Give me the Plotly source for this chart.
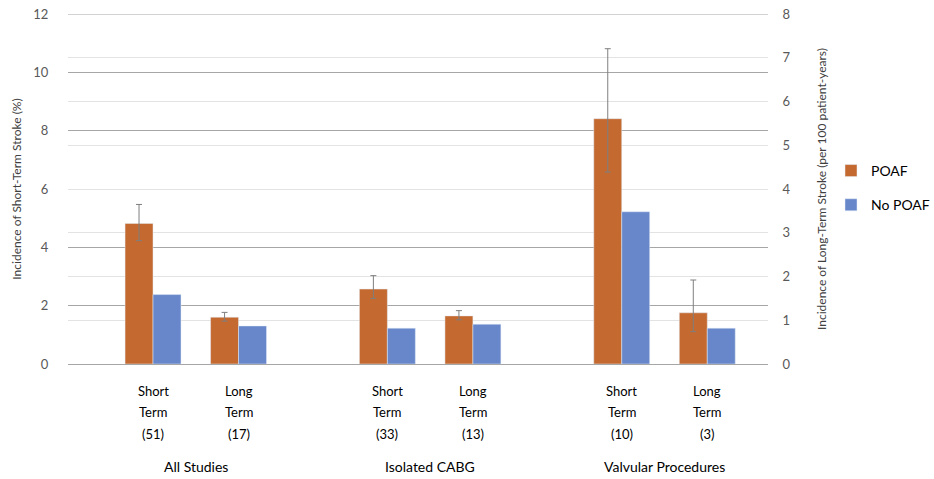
import plotly.graph_objects as go

# ---- data ----
groups = ["All Studies", "Isolated CABG", "Valvular Procedures"]
n_short = [51, 33, 10]
n_long = [17, 13, 3]

short_poaf = [4.82, 2.57, 8.41]
short_poaf_hi = [5.47, 3.03, 10.81]
short_poaf_lo = [4.23, 2.25, 6.58]
short_nopoaf = [2.38, 1.23, 5.22]

long_poaf = [1.07, 1.10, 1.17]
long_poaf_hi = [1.18, 1.22, 1.92]
long_poaf_lo = [0.98, 1.01, 0.74]
long_nopoaf = [0.87, 0.91, 0.82]

series_names = ["POAF", "No POAF"]
colors = ["#C4692F", "#6787CA"]

# ---- layout helpers ----
FONT = "Lato, 'Open Sans', sans-serif"
TXT = "#404040"
GROUP_STEP = 2.74
x_short = [g * GROUP_STEP for g in range(len(groups))]
x_long = [g * GROUP_STEP + 1 for g in range(len(groups))]
BW = 0.327
Y_MAX, Y2_MAX = 12, 8

fig = go.Figure()

def err(vals, hi, lo):
    return dict(type="data", symmetric=False,
                array=[h - v for h, v in zip(hi, vals)],
                arrayminus=[v - l for l, v in zip(lo, vals)],
                color="#7F7F7F", thickness=1, width=3)

fig.add_trace(go.Bar(x=x_short, y=short_poaf, name=series_names[0], marker_color=colors[0],
                     width=BW, offset=-BW, legendgroup="a",
                     error_y=err(short_poaf, short_poaf_hi, short_poaf_lo)))
fig.add_trace(go.Bar(x=x_short, y=short_nopoaf, name=series_names[1], marker_color=colors[1],
                     width=BW, offset=0, legendgroup="b"))
fig.add_trace(go.Bar(x=x_long, y=long_poaf, name=series_names[0], marker_color=colors[0],
                     width=BW, offset=-BW, legendgroup="a", showlegend=False, yaxis="y2",
                     error_y=err(long_poaf, long_poaf_hi, long_poaf_lo)))
fig.add_trace(go.Bar(x=x_long, y=long_nopoaf, name=series_names[1], marker_color=colors[1],
                     width=BW, offset=0, legendgroup="b", showlegend=False, yaxis="y2"))

annotations = []
for g in range(len(groups)):
    for xpos, kind, n in ((x_short[g], "Short", n_short[g]), (x_long[g], "Long", n_long[g])):
        for line, shift in zip([kind, "Term", f"({n})"], [-27, -48, -70]):
            annotations.append(dict(x=xpos, y=0, xref="x", yref="paper", text=line,
                                    showarrow=False, yanchor="middle", yshift=shift,
                                    font=dict(size=13, color="#000000", family=FONT)))
    annotations.append(dict(x=(x_short[g] + x_long[g]) / 2, y=0, xref="x", yref="paper",
                            text=groups[g], showarrow=False, yanchor="middle", yshift=-102,
                            font=dict(size=14, color="#000000", family=FONT)))

fig.update_layout(
    width=934, height=479,
    margin=dict(l=68, r=166, t=14, b=115, autoexpand=False),
    paper_bgcolor="white", plot_bgcolor="white",
    font=dict(family=FONT, color=TXT),
    barmode="overlay",
    showlegend=True,
    legend=dict(x=1.09, y=0.503, xanchor="left", yanchor="middle",
                font=dict(size=14, color="#000000", family=FONT),
                tracegroupgap=13, itemwidth=30, bgcolor="rgba(0,0,0,0)"),
    xaxis=dict(range=[-0.994, 7.19], showticklabels=False, showgrid=False,
               zeroline=False, showline=False, ticks=""),
    yaxis=dict(range=[0, Y_MAX], dtick=2, showgrid=True,
               gridcolor="#A6A6A6", gridwidth=1,
               zeroline=True, zerolinecolor="#A6A6A6", zerolinewidth=1, showline=False,
               ticks="outside", ticklen=16, tickcolor="rgba(0,0,0,0)",
               ticklabeloverflow="allow",
               tickfont=dict(size=13, color="#595959"),
               title=dict(text="Incidence of Short-Term Stroke (%)", standoff=9,
                          font=dict(size=12, color="#404040"))),
    yaxis2=dict(range=[0, Y2_MAX], dtick=1, overlaying="y",
                side="right", showgrid=True,
                gridcolor="#E3E3E3", gridwidth=1, zeroline=False, showline=False,
                ticks="outside", ticklen=11, tickcolor="rgba(0,0,0,0)",
                ticklabeloverflow="allow",
                tickfont=dict(size=13, color="#595959"),
                title=dict(text="Incidence of Long-Term Stroke (per 100 patient-years)", standoff=28,
                           font=dict(size=12, color="#404040"))),
    annotations=annotations,
    shapes=[dict(type="line", xref="paper", yref="y", x0=0, x1=1, y0=Y_MAX, y1=Y_MAX,
                 line=dict(color="#A6A6A6", width=1), layer="below")],
)

fig.write_html("out.html", config={"displayModeBar": False},
               post_script="document.body.style.margin='0px';")
